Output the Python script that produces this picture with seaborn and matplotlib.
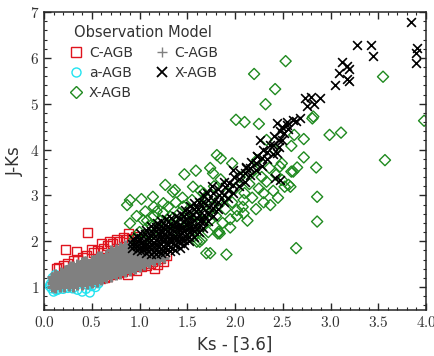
import numpy as np
import pandas as pd
import matplotlib
matplotlib.use("Agg")
import matplotlib.pyplot as plt
from matplotlib.lines import Line2D
from matplotlib.ticker import MultipleLocator, FuncFormatter
import seaborn as sns

# Observations: C-AGB (red squares)
obs_cagb = [
    (0.13, 1.41), (0.15, 1.43), (0.20, 1.47), (0.22, 1.83), (0.25, 1.52), (0.31, 1.59),
    (0.34, 1.77), (0.35, 1.60), (0.40, 1.65), (0.46, 2.19), (0.45, 1.70), (0.50, 1.82),
    (0.52, 1.75), (0.56, 1.80), (0.60, 1.95), (0.62, 1.85), (0.66, 1.90), (0.69, 2.00),
    (0.72, 1.95), (0.76, 2.03), (0.79, 1.99), (0.83, 2.08), (0.86, 2.04), (0.88, 2.16),
    (0.92, 2.05), (0.96, 2.10), (0.45, 1.08), (0.52, 1.12), (0.59, 1.18), (0.63, 1.22),
    (0.66, 1.23), (0.70, 1.27), (0.74, 1.30), (0.78, 1.31), (0.82, 1.34), (0.87, 1.28),
    (0.90, 1.38), (0.97, 1.37), (1.02, 1.45), (1.07, 1.48), (1.12, 1.52), (1.14, 1.55),
    (1.16, 1.41), (1.19, 1.50), (1.25, 1.55), (1.22, 1.62), (1.28, 1.68),
]

# Observations: a-AGB (cyan circles)
obs_aagb = [
    (0.07, 1.07), (0.08, 0.97), (0.10, 0.90), (0.13, 0.93), (0.06, 1.02), (0.11, 1.15),
    (0.15, 0.95), (0.20, 0.96), (0.25, 0.98), (0.30, 0.97), (0.35, 0.94), (0.40, 0.90),
    (0.48, 0.88), (0.54, 1.00), (0.57, 1.08), (0.50, 1.02), (0.44, 0.96), (0.09, 1.20),
    (0.12, 1.27),
]

# Observations: X-AGB (green diamonds)
obs_xagb = [
    (2.53, 5.93), (3.55, 5.59), (2.20, 5.65), (2.42, 5.32), (2.32, 4.99), (2.01, 4.65),
    (2.10, 4.60), (2.25, 4.56), (2.62, 4.32), (2.33, 4.21), (2.81, 4.68), (2.82, 4.72),
    (2.99, 4.32), (3.11, 4.37), (3.98, 4.63), (2.72, 4.23), (2.59, 4.08), (3.57, 3.77),
    (2.72, 3.83), (2.65, 3.61), (2.59, 3.52), (2.85, 3.61), (2.49, 3.70), (2.49, 3.34),
    (2.52, 3.19), (2.56, 3.23), (2.86, 2.97), (2.86, 2.43), (2.64, 1.85), (1.74, 1.74),
    (1.91, 1.71), (2.37, 2.79), (2.09, 2.61), (1.95, 2.48), (1.82, 2.17), (1.65, 2.03),
    (1.81, 3.88), (1.85, 3.81), (1.47, 3.46), (1.59, 3.54), (1.74, 3.60), (1.77, 3.48),
    (1.97, 3.70), (1.14, 2.97), (1.25, 2.83), (1.37, 3.12), (1.56, 3.19), (1.67, 3.05),
    (2.16, 3.48), (2.47, 3.63), (2.61, 3.52), (2.58, 3.19), (2.30, 3.05), (2.09, 2.90),
    (2.02, 2.68), (1.84, 2.17), (1.63, 1.99), (1.32, 2.54), (1.53, 2.46), (1.46, 2.76),
    (2.23, 3.77), (2.42, 3.99), (1.27, 3.23), (1.35, 3.08), (0.90, 2.90), (1.02, 2.92),
    (0.87, 2.79), (0.90, 2.39), (1.04, 2.46), (1.70, 1.74), (1.60, 1.99), (1.83, 2.21),
    (1.05, 2.05), (1.10, 2.15), (1.12, 2.35), (1.15, 2.55), (1.18, 2.65), (1.20, 2.25),
    (1.22, 2.45), (1.25, 2.62), (1.28, 2.35), (1.30, 2.75), (1.33, 2.15), (1.35, 2.50),
    (1.38, 2.85), (1.40, 2.30), (1.42, 2.62), (1.45, 2.95), (1.47, 2.10), (1.50, 2.40),
    (1.52, 2.70), (1.55, 2.90), (1.57, 2.25), (1.60, 2.55), (1.62, 2.80), (1.64, 3.10),
    (1.66, 2.35), (1.68, 2.60), (1.70, 2.95), (1.72, 2.20), (1.74, 2.45), (1.76, 2.75),
    (1.78, 3.20), (1.80, 2.55), (1.83, 2.90), (1.85, 3.35), (1.87, 2.40), (1.90, 2.70),
    (1.92, 3.05), (1.95, 2.30), (1.97, 2.85), (2.00, 3.15), (2.02, 2.55), (2.05, 3.40),
    (2.08, 2.75), (2.10, 3.05), (2.13, 2.45), (2.15, 3.25), (2.18, 2.95), (2.20, 3.55),
    (2.22, 2.70), (2.25, 3.15), (2.28, 3.40), (2.30, 2.85), (2.33, 3.30), (2.36, 3.60),
    (2.40, 3.10), (2.43, 3.45), (2.45, 2.95), (0.95, 2.05), (1.00, 2.20), (1.08, 2.45),
    (0.97, 2.55), (1.15, 2.75), (1.06, 2.65),
]

# Model: C-AGB (gray plus) -- dense band
mod_cagb = [
    (0.08, 1.00), (0.08, 1.08), (0.09, 1.15), (0.08, 1.22),
    (0.12, 0.98), (0.12, 1.06), (0.13, 1.13), (0.12, 1.21), (0.12, 1.29),
    (0.17, 1.02), (0.17, 1.10), (0.16, 1.17), (0.17, 1.25), (0.18, 1.33),
    (0.21, 1.00), (0.21, 1.07), (0.22, 1.15), (0.21, 1.23), (0.21, 1.31), (0.22, 1.38),
    (0.26, 1.03), (0.26, 1.11), (0.25, 1.19), (0.26, 1.27), (0.27, 1.35), (0.26, 1.42),
    (0.30, 1.01), (0.30, 1.09), (0.31, 1.17), (0.30, 1.25), (0.30, 1.33), (0.31, 1.41), (0.30, 1.47),
    (0.35, 1.04), (0.35, 1.12), (0.34, 1.20), (0.35, 1.28), (0.36, 1.36), (0.35, 1.44), (0.35, 1.51),
    (0.40, 1.05), (0.40, 1.13), (0.41, 1.22), (0.40, 1.30), (0.40, 1.38), (0.39, 1.46), (0.40, 1.54),
    (0.45, 1.07), (0.45, 1.16), (0.45, 1.24), (0.46, 1.32), (0.45, 1.40), (0.45, 1.49), (0.44, 1.57),
    (0.50, 1.10), (0.50, 1.18), (0.49, 1.27), (0.50, 1.35), (0.51, 1.43), (0.50, 1.52), (0.50, 1.60),
    (0.55, 1.12), (0.55, 1.21), (0.56, 1.29), (0.55, 1.38), (0.55, 1.46), (0.54, 1.55), (0.55, 1.63),
    (0.60, 1.15), (0.60, 1.24), (0.60, 1.32), (0.61, 1.41), (0.60, 1.49), (0.60, 1.58), (0.60, 1.67),
    (0.65, 1.19), (0.65, 1.27), (0.64, 1.36), (0.65, 1.44), (0.65, 1.53), (0.66, 1.61), (0.65, 1.70),
    (0.70, 1.22), (0.70, 1.31), (0.70, 1.39), (0.71, 1.48), (0.70, 1.56), (0.70, 1.65), (0.69, 1.73), (0.70, 1.80),
    (0.75, 1.26), (0.75, 1.34), (0.75, 1.43), (0.74, 1.51), (0.75, 1.60), (0.76, 1.68), (0.75, 1.76), (0.75, 1.84),
    (0.80, 1.29), (0.80, 1.38), (0.81, 1.46), (0.80, 1.55), (0.80, 1.63), (0.79, 1.72), (0.80, 1.80), (0.80, 1.88),
    (0.85, 1.33), (0.85, 1.41), (0.85, 1.50), (0.86, 1.58), (0.85, 1.67), (0.85, 1.75), (0.84, 1.83), (0.85, 1.92),
    (0.90, 1.36), (0.90, 1.45), (0.90, 1.53), (0.90, 1.62), (0.91, 1.70), (0.90, 1.78), (0.90, 1.87), (0.89, 1.95),
    (0.95, 1.40), (0.95, 1.48), (0.95, 1.57), (0.96, 1.65), (0.95, 1.74), (0.95, 1.82), (0.94, 1.90),
    (1.00, 1.44), (1.00, 1.52), (1.01, 1.60), (1.00, 1.69), (1.00, 1.77), (0.99, 1.85),
    (1.05, 1.48), (1.05, 1.56), (1.05, 1.64), (1.06, 1.72), (1.05, 1.80),
    (1.10, 1.52), (1.10, 1.60), (1.10, 1.68), (1.11, 1.76),
    (1.15, 1.56), (1.15, 1.64), (1.16, 1.72),
    (1.20, 1.60), (1.20, 1.68), (1.21, 1.76),
    (1.26, 1.64), (1.26, 1.72),
    (0.10, 1.04), (0.15, 1.06), (0.19, 1.12), (0.24, 1.15), (0.28, 1.21), (0.33, 1.24),
    (0.37, 1.32), (0.42, 1.35), (0.47, 1.44), (0.52, 1.47), (0.57, 1.51), (0.62, 1.55),
    (0.67, 1.58), (0.72, 1.62), (0.77, 1.66), (0.82, 1.70), (0.87, 1.74), (0.92, 1.76),
    (0.97, 1.78), (1.02, 1.70), (1.08, 1.66), (1.13, 1.70), (1.18, 1.66), (0.27, 1.45),
    (0.42, 1.58), (0.57, 1.67), (0.72, 1.76), (0.87, 1.86), (0.62, 1.29), (0.77, 1.39),
    (0.92, 1.49), (1.02, 1.56), (0.47, 1.20), (0.32, 1.11), (0.17, 1.00),
]

# Model: X-AGB (black crosses)
mod_xagb = [
    (0.92, 1.85), (0.92, 1.95), (0.93, 2.05),
    (0.97, 1.80), (0.97, 1.90), (0.98, 2.00), (0.97, 2.10),
    (1.02, 1.78), (1.02, 1.88), (1.03, 1.98), (1.02, 2.08), (1.01, 2.18),
    (1.07, 1.75), (1.07, 1.85), (1.08, 1.95), (1.07, 2.05), (1.06, 2.15), (1.07, 2.25),
    (1.12, 1.73), (1.12, 1.83), (1.13, 1.93), (1.12, 2.03), (1.11, 2.13), (1.12, 2.23), (1.12, 2.33),
    (1.17, 1.72), (1.17, 1.82), (1.18, 1.92), (1.17, 2.02), (1.16, 2.12), (1.17, 2.22), (1.17, 2.32), (1.18, 2.40),
    (1.22, 1.74), (1.22, 1.84), (1.23, 1.94), (1.22, 2.04), (1.21, 2.14), (1.22, 2.24), (1.22, 2.34), (1.23, 2.44),
    (1.27, 1.76), (1.27, 1.86), (1.28, 1.96), (1.27, 2.06), (1.26, 2.16), (1.27, 2.26), (1.27, 2.36), (1.28, 2.48),
    (1.32, 1.78), (1.32, 1.88), (1.33, 1.98), (1.32, 2.08), (1.31, 2.18), (1.32, 2.28), (1.32, 2.38), (1.33, 2.50),
    (1.37, 1.82), (1.37, 1.92), (1.38, 2.02), (1.37, 2.12), (1.36, 2.22), (1.37, 2.32), (1.37, 2.42), (1.38, 2.55),
    (1.42, 1.86), (1.42, 1.96), (1.43, 2.06), (1.42, 2.16), (1.41, 2.26), (1.42, 2.36), (1.42, 2.48), (1.43, 2.60),
    (1.47, 1.92), (1.47, 2.02), (1.48, 2.12), (1.47, 2.22), (1.46, 2.32), (1.47, 2.44), (1.47, 2.56), (1.48, 2.68),
    (1.52, 2.00), (1.52, 2.10), (1.53, 2.20), (1.52, 2.30), (1.51, 2.42), (1.52, 2.54), (1.52, 2.66), (1.53, 2.78),
    (1.57, 2.10), (1.57, 2.22), (1.58, 2.34), (1.57, 2.46), (1.56, 2.58), (1.57, 2.70), (1.57, 2.84),
    (1.62, 2.20), (1.62, 2.32), (1.63, 2.45), (1.62, 2.58), (1.61, 2.70), (1.62, 2.85),
    (1.67, 2.30), (1.67, 2.44), (1.68, 2.58), (1.67, 2.72), (1.66, 2.86), (1.67, 3.00),
    (1.72, 2.45), (1.72, 2.60), (1.73, 2.75), (1.72, 2.90), (1.71, 3.05),
    (1.77, 2.55), (1.77, 2.72), (1.78, 2.88), (1.77, 3.05), (1.76, 3.20),
    (1.82, 2.70), (1.82, 2.86), (1.83, 3.00), (1.82, 3.15),
    (1.88, 2.85), (1.88, 3.00), (1.89, 3.18), (1.88, 3.30),
    (1.93, 2.95), (1.93, 3.12), (1.94, 3.28),
    (1.98, 3.05), (1.98, 3.22), (1.99, 3.40), (1.98, 3.55),
    (2.04, 3.20), (2.04, 3.35), (2.05, 3.50),
    (2.10, 3.30), (2.10, 3.48), (2.11, 3.62),
    (2.16, 3.45), (2.16, 3.60), (2.17, 3.72),
    (2.22, 3.55), (2.22, 3.70), (2.23, 3.85),
    (2.28, 3.65), (2.28, 3.82), (2.29, 4.00),
    (2.34, 3.80), (2.34, 3.95),
    (2.40, 3.90), (2.40, 4.10), (2.41, 4.30),
    (2.46, 4.05), (2.46, 4.20), (2.47, 4.40),
    (2.44, 4.58), (2.54, 4.61), (2.64, 4.63), (2.26, 4.21), (2.37, 4.10), (2.44, 3.92),
    (2.23, 3.85), (2.12, 3.59), (2.42, 3.37), (2.47, 3.33),
    (2.49, 4.50), (2.51, 4.36), (2.49, 4.21), (2.54, 4.54), (2.56, 4.45),
    (2.61, 4.65), (2.68, 4.68), (2.73, 5.12), (2.80, 5.14), (2.89, 5.12), (2.75, 4.95),
    (2.83, 5.00), (3.05, 5.41), (3.17, 5.54), (3.19, 5.50), (3.09, 5.67), (3.19, 5.76),
    (3.17, 5.82), (3.12, 5.91), (3.28, 6.28), (3.42, 6.28), (3.44, 6.05), (3.84, 6.79),
    (3.91, 6.21), (3.90, 6.10), (3.90, 5.90),
    (0.95, 1.95), (1.00, 2.03), (1.05, 1.90), (1.10, 2.08), (1.15, 1.97), (1.20, 2.19),
    (1.25, 2.01), (1.30, 2.23), (1.35, 2.07), (1.40, 2.31), (1.45, 2.17), (1.50, 2.36),
    (1.55, 2.28), (1.60, 2.50), (1.10, 1.88), (1.20, 1.89), (1.30, 1.93), (1.40, 2.01),
]

x_ticks = [0.0, 0.5, 1.0, 1.5, 2.0, 2.5, 3.0, 3.5, 4.0]
y_ticks = [1, 2, 3, 4, 5, 6, 7]

def to_df(pts):
    return pd.DataFrame(pts, columns=["ks36", "jks"])

sns.set_style("ticks")
plt.rcParams["font.family"] = ["DejaVu Sans"]
plt.rcParams["mathtext.fontset"] = "cm"

fig = plt.figure(figsize=(4.34, 3.56), dpi=100)
ax = fig.add_axes([0.1014, 0.1292, 0.8802, 0.8368])

red = "#e0141e"
cyan = "#22e3f0"
green = "#1f8a1f"
gray = "#808080"

# observations first, model on top
sns.scatterplot(data=to_df(obs_cagb), x="ks36", y="jks", ax=ax, marker="s", s=42,
                facecolors="none", edgecolor=red, linewidth=1.0)
sns.scatterplot(data=to_df(obs_aagb), x="ks36", y="jks", ax=ax, marker="o", s=40,
                facecolors="none", edgecolor=cyan, linewidth=1.0)
sns.scatterplot(data=to_df(obs_xagb), x="ks36", y="jks", ax=ax, marker="D", s=32,
                facecolors="none", edgecolor=green, linewidth=1.0)
sns.scatterplot(data=to_df(mod_cagb), x="ks36", y="jks", ax=ax, marker="+", s=60,
                color=gray, linewidth=2.2)
sns.scatterplot(data=to_df(mod_xagb), x="ks36", y="jks", ax=ax, marker="x", s=40,
                color="black", linewidth=1.2)

ax.set_xlim(0, 4)
ax.set_ylim(0.5, 7)
ax.set_xticks(x_ticks)
ax.set_yticks(y_ticks)
ax.xaxis.set_minor_locator(MultipleLocator(0.1))
ax.yaxis.set_minor_locator(MultipleLocator(0.2))
ax.xaxis.set_major_formatter(FuncFormatter(lambda v, p: f"${v:.1f}$"))
ax.yaxis.set_major_formatter(FuncFormatter(lambda v, p: f"${v:.0f}$"))
ax.tick_params(which="both", direction="in", top=True, right=True, labelsize=11,
               labelcolor="#333333")
ax.tick_params(which="major", length=5, width=1)
ax.tick_params(which="minor", length=2.5, width=0.8)
for sp in ax.spines.values():
    sp.set_linewidth(1.1)

ax.set_xlabel("Ks - [3.6]", fontsize=12, color="#333333")
ax.set_ylabel("J-Ks", fontsize=12, color="#333333")

handles = [
    Line2D([], [], ls="none", marker="s", mfc="none", mec=red, ms=6.5, mew=1.0),
    Line2D([], [], ls="none", marker="o", mfc="none", mec=cyan, ms=6.5, mew=1.0),
    Line2D([], [], ls="none", marker="D", mfc="none", mec=green, ms=6, mew=1.0),
    Line2D([], [], ls="none", marker="+", color=gray, ms=7, mew=1.0),
    Line2D([], [], ls="none", marker="x", color="black", ms=6.5, mew=1.3),
]
labels = ["C-AGB", "a-AGB", "X-AGB", "C-AGB", "X-AGB"]
leg = ax.legend(handles, labels, loc="upper left", bbox_to_anchor=(0.03, 1.0),
                ncol=2, frameon=False, title="Observation Model", fontsize=10,
                title_fontsize=10.5, handletextpad=0.3, columnspacing=1.5,
                labelspacing=0.45, handlelength=1.2)
for t in leg.get_texts():
    t.set_color("#333333")
leg.get_title().set_color("#333333")

fig.savefig("out.png", dpi=100)
